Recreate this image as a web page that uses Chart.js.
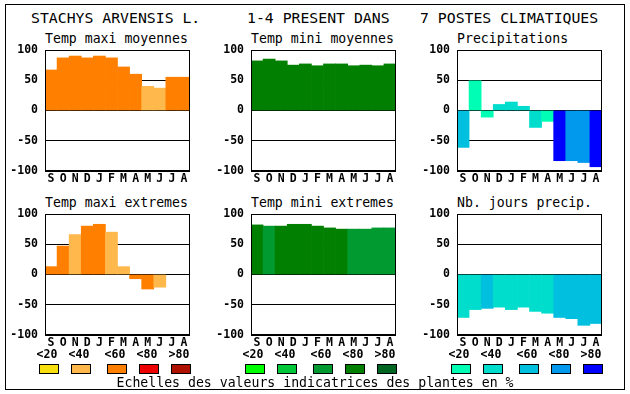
<!DOCTYPE html>
<html>
<head>
<meta charset="utf-8">
<script src="https://cdn.jsdelivr.net/npm/chart.js@4"></script>
<style>
  html, body { margin: 0; padding: 0; background: #fff; }
  #page { position: relative; width: 630px; height: 394px; overflow: hidden; background: #fff;
          font-family: "DejaVu Sans Mono", monospace; color: #000; }
  #frame { position: absolute; left: 5px; top: 4px; width: 620px; height: 386px;
           box-sizing: border-box; border: 1px solid #000; }
  .txt { position: absolute; white-space: pre; line-height: 1; }
  .title { font-size: 14.8px; }
  .sub { font-size: 13.2px; }
  .cls { font-size: 11.5px; font-weight: bold; transform: translateX(-50%); }
  .sw { position: absolute; width: 20px; height: 10px; box-sizing: border-box; border: 1px solid #000; }
  canvas { position: absolute; }
</style>
</head>
<body>
<div id="page">
  <div id="frame"></div>
</div>
<script>
// months, Sept -> Aug
const months = ['S', 'O', 'N', 'D', 'J', 'F', 'M', 'A', 'M', 'J', 'J', 'A'];
const classLabels = ['<20', '<40', '<60', '<80', '>80'];
const yTicks = [-100, -50, 0, 50, 100];

// values (% scale) and indicator class of each bar (0..4)
const maxiMoy = [67, 87, 90, 87, 90, 87, 72, 60, 40, 37, 55, 55];
const maxiMoyCls = [2, 2, 2, 2, 2, 2, 2, 2, 1, 1, 2, 2];

const miniMoy = [82, 85, 82, 75, 77, 74, 77, 77, 74, 75, 74, 77];
const miniMoyCls = [3, 3, 3, 3, 3, 3, 3, 3, 3, 3, 3, 3];

const precip = [-61, 49, -11, 10, 14, 7, -28, -18, -83, -83, -86, -93];
const precipCls = [2, 0, 0, 1, 1, 1, 1, 0, 4, 3, 3, 4];

const maxiExt = [13, 47, 66, 80, 83, 70, 13, -7, -24, -21, null, null];
const maxiExtCls = [2, 2, 1, 2, 2, 1, 1, 2, 2, 1, 2, 2];

const miniExt = [82, 80, 80, 83, 83, 80, 77, 75, 75, 75, 77, 77];
const miniExtCls = [3, 2, 3, 3, 3, 3, 3, 3, 2, 2, 2, 2];

const joursPrecip = [-71, -58, -56, -54, -58, -54, -61, -64, -71, -73, -84, -81];
const joursPrecipCls = [1, 1, 2, 1, 1, 1, 1, 1, 2, 2, 2, 2];

// colour scales
const orangeScale = ['#f8e010', '#ffb84c', '#ff8000', '#ec0000', '#ae1100'];
const greenScale = ['#00ff00', '#00c83a', '#009a30', '#007f00', '#006622'];
const blueScale = ['#00ffb4', '#00ddcc', '#00bfdf', '#0099ee', '#0000ff'];

const page = document.getElementById('page');

function addText(cls, text, x, y) {
    const d = document.createElement('div');
    d.className = 'txt ' + cls;
    d.textContent = text;
    d.style.left = x + 'px';
    d.style.top = y + 'px';
    page.appendChild(d);
    return d;
}

// main title
addText('title', 'STACHYS ARVENSIS L.', 31, 11);
addText('title', '1-4 PRESENT DANS', 247, 11);
addText('title', '7 POSTES CLIMATIQUES', 420, 11);

// draws the box around the plot area
const boxPlugin = {
    id: 'box',
    afterDraw(chart) {
        const a = chart.chartArea, c = chart.ctx;
        c.save();
        c.strokeStyle = '#000';
        c.lineWidth = 1;
        c.strokeRect(Math.round(a.left) + 0.5, Math.round(a.top) + 0.5,
                     Math.round(a.right - a.left) - 1, Math.round(a.bottom - a.top) - 1);
        c.restore();
    }
};

const PADL = 45, PADT = 8, PW = 145, PH = 121, PADB = 18, PADR = 2;
const tickFont = { family: 'DejaVu Sans Mono', size: 11.5, weight: 'bold' };

function makePanel(plotLeft, plotTop, title, values, classes, scale) {
    addText('sub', title, plotLeft, plotTop - 18);
    const cv = document.createElement('canvas');
    const w = PADL + PW + PADR, h = PADT + PH + PADB;
    cv.width = w; cv.height = h;
    cv.style.width = w + 'px'; cv.style.height = h + 'px';
    cv.style.left = (plotLeft - PADL) + 'px';
    cv.style.top = (plotTop - PADT) + 'px';
    page.appendChild(cv);
    new Chart(cv.getContext('2d'), {
        type: 'bar',
        data: {
            labels: months,
            datasets: [{
                data: values,
                backgroundColor: classes.map(k => scale[k]),
                borderWidth: 0,
                barPercentage: 1,
                categoryPercentage: 1
            }]
        },
        options: {
            responsive: false,
            animation: false,
            layout: { padding: { top: PADT, right: PADR, left: 0, bottom: 0 } },
            plugins: { legend: { display: false }, tooltip: { enabled: false } },
            scales: {
                x: {
                    grid: { display: false, drawTicks: false },
                    border: { display: false },
                    ticks: { color: '#000', padding: 1, maxRotation: 0, autoSkip: false, font: tickFont },
                    afterFit: s => { s.height = PADB; s.paddingLeft = 0; s.paddingRight = 0; }
                },
                y: {
                    min: -100, max: 100,
                    z: 1,
                    afterBuildTicks: s => { s.ticks = yTicks.map(v => ({ value: v })); },
                    grid: { color: '#000', lineWidth: 1, drawTicks: false },
                    border: { display: false },
                    ticks: { color: '#000', padding: 7, font: tickFont },
                    afterFit: s => { s.width = PADL; s.paddingTop = 0; s.paddingBottom = 0; }
                }
            }
        },
        plugins: [boxPlugin]
    });
}

const cols = [45, 251, 457];
const rows = [50, 214];

makePanel(cols[0], rows[0], 'Temp maxi moyennes', maxiMoy, maxiMoyCls, orangeScale);
makePanel(cols[1], rows[0], 'Temp mini moyennes', miniMoy, miniMoyCls, greenScale);
makePanel(cols[2], rows[0], 'Precipitations', precip, precipCls, blueScale);
makePanel(cols[0], rows[1], 'Temp maxi extremes', maxiExt, maxiExtCls, orangeScale);
makePanel(cols[1], rows[1], 'Temp mini extremes', miniExt, miniExtCls, greenScale);
makePanel(cols[2], rows[1], 'Nb. jours precip.', joursPrecip, joursPrecipCls, blueScale);

// colour scale legends under each column
const swatchOffsets = [-6, 26, 62, 94, 126];
const scales = [orangeScale, greenScale, blueScale];
cols.forEach((p, g) => {
    classLabels.forEach((lab, i) => {
        addText('cls', lab, p + swatchOffsets[i] + 8, 349);
        const s = document.createElement('div');
        s.className = 'sw';
        s.style.left = (p + swatchOffsets[i]) + 'px';
        s.style.top = '364px';
        s.style.background = scales[g][i];
        page.appendChild(s);
    });
});

const cap = addText('sub', 'Echelles des valeurs indicatrices des plantes en %', 315, 376);
cap.style.transform = 'translateX(-50%)';
</script>
</body>
</html>
